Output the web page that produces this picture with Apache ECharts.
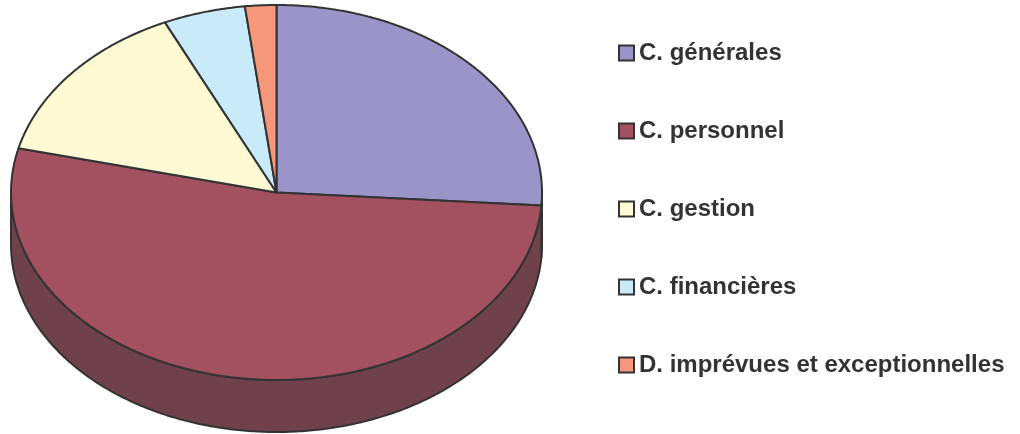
<!DOCTYPE html>
<html>
<head>
<meta charset="utf-8">
<script src="https://cdn.jsdelivr.net/npm/echarts@6/dist/echarts.min.js"></script>
<style>
  html, body { margin: 0; padding: 0; background: #fff; }
  #main { width: 1020px; height: 434px; }
</style>
</head>
<body>
<div id="main"></div>
<script>
const categories = ['C. générales', 'C. personnel', 'C. gestion', 'C. financières', 'D. imprévues et exceptionnelles'];
const values = [26.1, 52.7, 14.3, 5.0, 1.9];
const colors = ['#9b94c8', '#a35060', '#fffad4', '#c9eaf8', '#f5977a'];
const sideColors = ['#6c6790', '#6f414b', '#b8b393', '#8fa8b3', '#b06a55'];

const chart = echarts.init(document.getElementById('main'));
const total = values.reduce((a, b) => a + b, 0);
// flattened (3d look) pie geometry
const pie = { cx: 276.5, cy: 192.5, rx: 265.5, ry: 187.5, depth: 52 };

function pt(t, dy) {
  return [pie.cx + pie.rx * Math.sin(t), pie.cy - pie.ry * Math.cos(t) + (dy || 0)];
}
function arc(a0, a1, dy) {
  const n = Math.max(2, Math.ceil((a1 - a0) / 0.01));
  const out = [];
  for (let k = 0; k <= n; k++) out.push(pt(a0 + (a1 - a0) * k / n, dy));
  return out;
}

function renderSlice(params, api) {
  const i = params.seriesIndex;
  let before = 0;
  for (let k = 0; k < i; k++) before += values[k];
  const a0 = before / total * 2 * Math.PI;
  const a1 = (before + api.value(0)) / total * 2 * Math.PI;
  const children = [];
  // outer wall, only the front half is visible
  const w0 = Math.max(a0, Math.PI / 2), w1 = Math.min(a1, 3 * Math.PI / 2);
  if (w1 > w0) {
    const top = arc(w0, w1, 0);
    const bottom = arc(w0, w1, pie.depth).reverse();
    children.push({
      type: 'polygon', z2: 0,
      shape: { points: top.concat(bottom) },
      style: { fill: sideColors[i], stroke: '#333', lineWidth: 2, lineJoin: 'round' }
    });
  }
  children.push({
    type: 'polygon', z2: 10,
    shape: { points: [[pie.cx, pie.cy]].concat(arc(a0, a1, 0)) },
    style: { fill: colors[i], stroke: '#333', lineWidth: 2, lineJoin: 'round' }
  });
  return { type: 'group', children: children };
}

const option = {
  animation: false,
  legend: {
    orient: 'vertical',
    left: 618,
    top: 41,
    padding: 0,
    itemWidth: 15,
    itemHeight: 15,
    itemGap: 54,
    icon: 'rect',
    selectedMode: false,
    data: categories,
    itemStyle: { borderColor: '#333', borderWidth: 2 },
    textStyle: { fontSize: 24, fontWeight: 'bold', color: '#333', fontFamily: 'Liberation Sans' }
  },
  series: categories.map((name, i) => ({
    name: name,
    type: 'custom',
    coordinateSystem: 'none',
    itemStyle: { color: colors[i] },
    renderItem: renderSlice,
    data: [values[i]]
  }))
};
chart.setOption(option);
</script>
</body>
</html>
